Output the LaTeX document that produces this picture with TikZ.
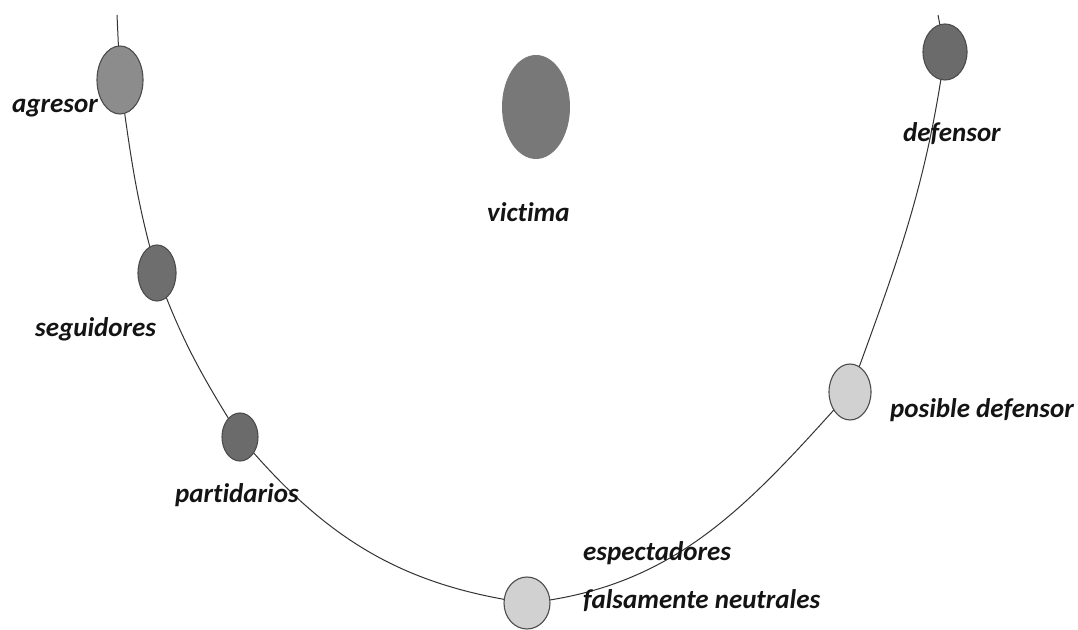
\documentclass[tikz,border=0pt]{standalone}
\usepackage{fontspec}
\setmainfont{Carlito}[RawFeature={-liga}]
\usetikzlibrary{shapes.geometric,backgrounds}
\begin{document}
\begin{tikzpicture}[x=1pt,y=1pt,
  dot/.style={ellipse,draw=black!70,line width=1.1pt,inner sep=0pt},
  lbl/.style={font=\fontsize{27}{32}\selectfont\bfseries\itshape,text=black!92,inner sep=0pt},
  conn/.style={draw=black!80,line width=1pt}]
\useasboundingbox (0,0) rectangle (1078,629);
\node[dot,fill=black!45,minimum width=46pt,minimum height=68pt] (agresor) at (120,549) {};
\node[dot,fill=black!57,minimum width=38pt,minimum height=56pt] (seguidores) at (157,356) {};
\node[dot,fill=black!58,minimum width=36pt,minimum height=48pt] (partidarios) at (240,192) {};
\node[dot,fill=black!18,minimum width=46pt,minimum height=52pt] (espect) at (527,26) {};
\node[dot,fill=black!18,minimum width=42pt,minimum height=56pt] (posible) at (850,237) {};
\node[dot,fill=black!58,minimum width=44pt,minimum height=56pt] (defensor) at (945,577) {};
\node[ellipse,fill=black!53,inner sep=0pt,minimum width=68pt,minimum height=104pt] (victima) at (536,522) {};
\coordinate (ltop) at (117,614);
\coordinate (rtop) at (938,614);
\begin{pgfonlayer}{background}
\fill[white] (0,0) rectangle (1078,629);
\draw[conn] (ltop) -- (agresor.center);
\draw[conn] (rtop) -- (defensor.center);
\draw[conn] (agresor.center) to[out=-82,in=106] (seguidores.center);
\draw[conn] (seguidores.center) to[out=-70,in=122] (partidarios.center);
\draw[conn] (partidarios.center) to[out=-50,in=172] (espect.center);
\draw[conn] (espect.center) to[out=6,in=228] (posible.center);
\draw[conn] (posible.center) to[out=70,in=262] (defensor.center);
\end{pgfonlayer}
\node[lbl,anchor=base east] (tagresor) at (98,516) {agresor};
\node[lbl,anchor=base west] (tseguidores) at (35,292) {seguidores};
\node[lbl,anchor=base west] (tpartidarios) at (175,126) {partidarios};
\node[lbl,anchor=base west] (tvictima) at (487,407) {victima};
\node[lbl,anchor=base west] (tdefensor) at (903,487) {defensor};
\node[lbl,anchor=base west] (tposible) at (890,211) {posible defensor};
\node[lbl,anchor=base west] (tesp1) at (583,69) {espectadores};
\node[lbl,anchor=base west] (tesp2) at (583,21) {falsamente neutrales};
\end{tikzpicture}
\end{document}
